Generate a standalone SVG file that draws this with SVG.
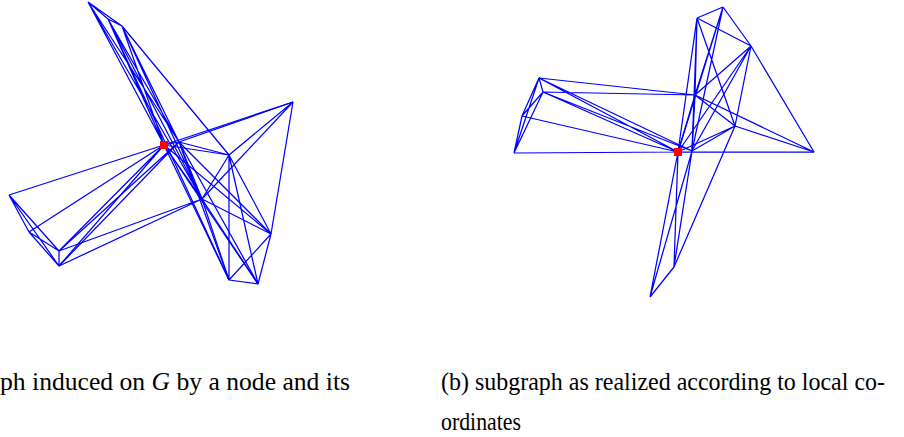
<svg xmlns="http://www.w3.org/2000/svg" width="904" height="437" viewBox="0 0 904 437">
<style>
.e{stroke:#0000ff;stroke-width:1.25;fill:none}
.c{font-family:"Liberation Serif","Times New Roman",serif;font-size:26px;fill:#000}
.r{fill:#ff0000}
</style>
<rect width="904" height="437" fill="#fff"/>
<g id="connectors-left" class="e">
<path d="M88 2L108 19M88 2L122 26M108 19L122 26M88 2L164 145M88 2L179 142M108 19L164 145M108 19L179 142M122 26L164 145M122 26L179 142M88 2L202 199M108 19L202 199M122 26L202 199M122 26L229 155M108 19L229 280"/>
<path d="M164 145L179 142M164 145L9 195M164 145L29 232M164 145L59 251M164 145L59 266M164 145L229 155M164 145L202 199M164 145L229 280M164 145L258 284M164 145L271 234M164 145L293 102"/>
<path d="M179 142L59 251M179 142L59 266M179 142L229 155M179 142L202 199M179 142L271 234M179 142L229 280M179 142L258 284M179 142L293 102"/>
<path d="M293 102L229 155M293 102L202 199M293 102L271 234"/>
<path d="M9 195L29 232M9 195L59 251M9 195L59 266M29 232L59 251M29 232L59 266M59 251L59 266M59 251L202 199M59 266L202 199"/>
<path d="M229 155L229 280M229 155L271 234M229 155L258 284M229 155L202 199M202 199L271 234M202 199L229 280M202 199L258 284M271 234L229 280M271 234L258 284M229 280L258 284"/>
</g>
<g id="connectors-right" class="e">
<path d="M539 78L543 92M539 78L522 116M539 78L514 153M543 92L522 116M543 92L514 153M522 116L514 153"/>
<path d="M539 78L695 95M543 92L695 95M539 78L678 152M543 92L678 152M543 92L692 151M539 78L692 151M522 116L678 152M514 153L678 152M678 152L814 152"/>
<path d="M723 7L697 18M723 7L751 46M697 18L751 46M697 18L695 95M697 18L678 152M697 18L692 151M723 7L678 152M723 7L692 151M723 7L695 95M697 18L735 126"/>
<path d="M751 46L695 95M751 46L678 152M751 46L692 151M751 46L735 126M751 46L814 152"/>
<path d="M695 95L735 126M695 95L814 152M695 95L678 152M695 95L692 151M735 126L814 152M735 126L678 152M735 126L692 151M735 126L674 267"/>
<path d="M678 152L674 267M678 152L650 297M692 151L674 267M692 151L650 297M674 267L650 297"/>
</g>
<g id="node-center-left"><rect class="r" x="160" y="141" width="8" height="8"/></g>
<g id="node-center-right"><rect class="r" x="674" y="148" width="8" height="8"/></g>
<g id="captions">
<text class="c" x="0" y="390" textLength="350" lengthAdjust="spacingAndGlyphs">ph induced on <tspan font-style="italic">G</tspan> by a node and its</text>
<text class="c" x="441" y="390" textLength="444" lengthAdjust="spacingAndGlyphs">(b) subgraph as realized according to local co-</text>
<text class="c" x="441" y="430" textLength="80" lengthAdjust="spacingAndGlyphs">ordinates</text>
</g>
</svg>
